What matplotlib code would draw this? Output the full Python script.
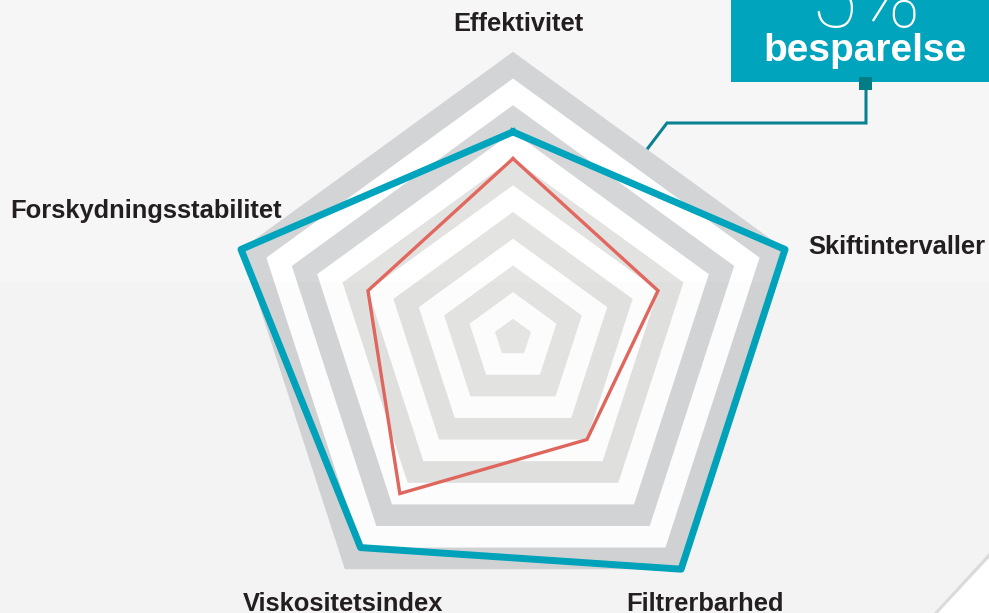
import numpy as np
import matplotlib
matplotlib.use("Agg")
import matplotlib.pyplot as plt
from matplotlib.patches import Rectangle, Polygon

# ---- data ----
categories = ["Effektivitet", "Skiftintervaller", "Filtrerbarhed",
              "Viskositetsindex", "Forskydningsstabilitet"]
new_oil = [7, 10, 10, 9, 10]          # teal line
old_oil = [6, 5, 4, 6.5, 5]           # red line
levels = [10, 9, 8, 7, 6, 5, 4, 3, 2, 1, 0]
level_colors = ["#d3d4d6", "#ffffff", "#d5d6d8", "#ffffff", "#e2e2e1", "#ffffff",
                "#e3e3e2", "#ffffff", "#e5e5e3", "#ffffff", "#e7e7e5"]
badge_value = "5%"
badge_label = "besparelse"

W, H = 989, 613
fig = plt.figure(figsize=(W / 100, H / 100), dpi=100)

# background axes in pixel coordinates
bg = fig.add_axes([0, 0, 1, 1])
bg.set_xlim(0, W)
bg.set_ylim(H, 0)
bg.axis("off")
bg.add_patch(Rectangle((0, 0), W, H, color="#f6f6f6", zorder=0))

# radar (polar) axes
cx, cy, R = 513, 337.8, 286
rorigin = 0.71
ax = fig.add_axes([(cx - R) / W, (H - cy - R) / H, 2 * R / W, 2 * R / H],
                  projection="polar")
ax.set_facecolor("none")
ax.set_theta_offset(np.pi / 2)
ax.set_theta_direction(-1)
ax.set_ylim(0, 10)
ax.set_rorigin(-rorigin)
ax.axis("off")

n = len(categories)
angles = np.linspace(0, 2 * np.pi, n, endpoint=False)
ang_c = np.concatenate([angles, angles[:1]])

for lv, col in zip(levels, level_colors):
    ax.fill(ang_c, [lv] * (n + 1), color=col, lw=0, zorder=1, clip_on=False)

ax.plot(ang_c, old_oil + old_oil[:1], color="#e2685f", lw=2.4,
        solid_joinstyle="miter", zorder=3, clip_on=False)
ax.plot(ang_c, new_oil + new_oil[:1], color="#00a4bc", lw=5,
        solid_joinstyle="round", zorder=4, clip_on=False)

# subtle overlay on the lower half
ov = fig.add_axes([0, 0, 1, 1], facecolor="none")
ov.set_xlim(0, W)
ov.set_ylim(H, 0)
ov.axis("off")
ov.add_patch(Rectangle((0, 282), W, H - 282, color="black", alpha=0.012, lw=0))

# labels
lab_kw = dict(fontsize=18.4, fontweight="bold", color="#231f20",
              family=["Liberation Sans", "DejaVu Sans"])
ov.text(518, 31, categories[0], ha="center", va="baseline", **lab_kw)
ov.text(808, 254, categories[1], ha="left", va="baseline", **lab_kw)
ov.text(705, 611, categories[2], ha="center", va="baseline", **lab_kw)
ov.text(343, 611, categories[3], ha="center", va="baseline", **lab_kw)
ov.text(282, 218, categories[4], ha="right", va="baseline", **lab_kw)

# badge and connector
ov.plot([648, 667, 866, 866], [148, 123, 123, 84], color="#0b8291", lw=2.2,
        solid_joinstyle="miter", zorder=5)
ov.add_patch(Rectangle((731, -10), 270, 92, color="#00a4bc", lw=0, zorder=6))
ov.add_patch(Rectangle((859, 77), 13, 13, color="#007c87", lw=0, zorder=7))
ov.text(865, 27, badge_value, ha="center", va="baseline", color="white",
        fontsize=62, fontweight="light", family=["Roboto", "DejaVu Sans"], zorder=8)
ov.text(865, 61, badge_label, ha="center", va="baseline", color="white",
        fontsize=28, fontweight="bold", family=["Liberation Sans", "DejaVu Sans"],
        zorder=8)

# page curl corner
ov.add_patch(Polygon([(989, 553), (934, 613), (989, 613)], closed=True,
                     color="#dadada", lw=0, zorder=8))
ov.add_patch(Polygon([(989, 558), (938, 613), (989, 613)], closed=True,
                     color="#ffffff", lw=0, zorder=9))

fig.savefig("out.png", dpi=100)
